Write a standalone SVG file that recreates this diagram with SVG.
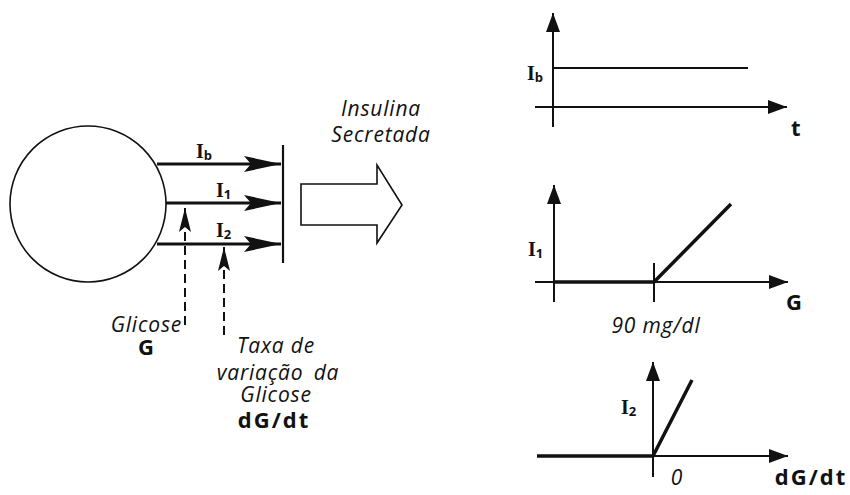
<svg xmlns="http://www.w3.org/2000/svg" width="850" height="495" viewBox="0 0 850 495">
<defs>
<style>
.ln{stroke:#111;fill:none}
.flow{stroke:#111;stroke-width:3;fill:none}
.axis{stroke:#111;stroke-width:2;fill:none}
.data{stroke:#111;stroke-width:3.5;fill:none}
.dash{stroke:#111;stroke-width:2;fill:none;stroke-dasharray:9,5}
.it{font-family:"Open Sans","DejaVu Sans",sans-serif;font-style:italic;font-size:21px;letter-spacing:0.8px;fill:#111}
.bd{font-family:"Open Sans","DejaVu Sans",sans-serif;font-weight:bold;font-size:22px;fill:#111}
.I{font-family:"Liberation Serif",serif;font-weight:bold;font-size:20px;fill:#111}
.sub{font-family:"Open Sans","DejaVu Sans",sans-serif;font-weight:bold;font-size:13px}
</style>
<marker id="fa" markerUnits="userSpaceOnUse" markerWidth="40" markerHeight="20" viewBox="-38 -10 40 20" refX="0" refY="0" orient="auto">
<path d="M-37,-8 L0,0 L-37,8 L-30,0 Z" fill="#111"/>
</marker>
<marker id="aa" markerUnits="userSpaceOnUse" markerWidth="22" markerHeight="18" viewBox="-20 -9 22 18" refX="0" refY="0" orient="auto">
<path d="M-19,-7 L0,0 L-19,7 Z" fill="#111"/>
</marker>
<marker id="da" markerUnits="userSpaceOnUse" markerWidth="26" markerHeight="16" viewBox="-25 -8 26 16" refX="0" refY="0" orient="auto">
<path d="M-24,-6 L0,0 L-24,6 L-19,0 Z" fill="#111"/>
</marker>
</defs>

<g id="cell">
<circle cx="88" cy="204" r="78" class="ln" stroke-width="1.6"/>
</g>

<g id="barrier">
<line x1="283" y1="145" x2="283" y2="263" class="ln" stroke-width="2.2"/>
</g>

<g id="connectors">
<line x1="157" y1="164" x2="281" y2="164" class="flow" marker-end="url(#fa)"/>
<line x1="166" y1="203" x2="281" y2="203" class="flow" marker-end="url(#fa)"/>
<line x1="157" y1="244" x2="281" y2="244" class="flow" marker-end="url(#fa)"/>
<line x1="185" y1="325" x2="185" y2="208" class="dash" marker-end="url(#da)"/>
<line x1="224" y1="335" x2="224" y2="247" class="dash" marker-end="url(#da)"/>
</g>

<g id="flow-labels">
<text x="196" y="158" class="I">I<tspan class="sub" dy="2">b</tspan></text>
<text x="216" y="197" class="I">I<tspan class="sub" dy="2">1</tspan></text>
<text x="216" y="237" class="I">I<tspan class="sub" dy="2">2</tspan></text>
</g>

<g id="glicose">
<text x="182" y="332" class="it" text-anchor="end">Glicose</text>
<text x="146" y="355" class="bd" text-anchor="middle">G</text>
</g>

<g id="taxa">
<text x="276" y="353" class="it" text-anchor="middle">Taxa de</text>
<text x="278" y="380" class="it" text-anchor="middle" word-spacing="4">variação da</text>
<text x="276" y="402" class="it" text-anchor="middle">Glicose</text>
<text x="274" y="428" class="bd" text-anchor="middle" letter-spacing="2">dG/dt</text>
</g>

<g id="insulina">
<text x="381" y="116" class="it" text-anchor="middle">Insulina</text>
<text x="381" y="142" class="it" text-anchor="middle">Secretada</text>
<path d="M301,184 L377,184 L377,165 L402,205 L377,243 L377,225 L301,225 Z" class="ln" stroke-width="1.6"/>
</g>

<g id="graph-ib">
<line x1="553" y1="127" x2="553" y2="13" class="axis" marker-end="url(#aa)"/>
<line x1="535" y1="107" x2="787" y2="107" class="axis" marker-end="url(#aa)"/>
<line x1="553" y1="68" x2="748" y2="68" class="axis" stroke-width="2.5"/>
<text x="527" y="80" class="I">I<tspan class="sub" dy="2">b</tspan></text>
<text x="791" y="136" class="bd">t</text>
</g>

<g id="graph-i1">
<line x1="554" y1="302" x2="554" y2="185" class="axis" marker-end="url(#aa)"/>
<line x1="535" y1="282" x2="788" y2="282" class="axis" marker-end="url(#aa)"/>
<line x1="654" y1="263" x2="654" y2="302" class="axis"/>
<polyline points="554,282 654,282 731,204" class="data"/>
<text x="528" y="256" class="I">I<tspan class="sub" dy="2">1</tspan></text>
<text x="786" y="310" class="bd">G</text>
<text x="656" y="333" class="it" text-anchor="middle">90 mg/dl</text>
</g>

<g id="graph-i2">
<line x1="653" y1="477" x2="653" y2="362" class="axis" marker-end="url(#aa)"/>
<line x1="537" y1="456" x2="788" y2="456" class="axis" marker-end="url(#aa)"/>
<polyline points="537,456 653,456 692,380" class="data"/>
<text x="621" y="414" class="I">I<tspan class="sub" dy="2">2</tspan></text>
<text x="677" y="485" class="it" text-anchor="middle">0</text>
<text x="811" y="485" class="bd" text-anchor="middle" letter-spacing="2">dG/dt</text>
</g>
</svg>
